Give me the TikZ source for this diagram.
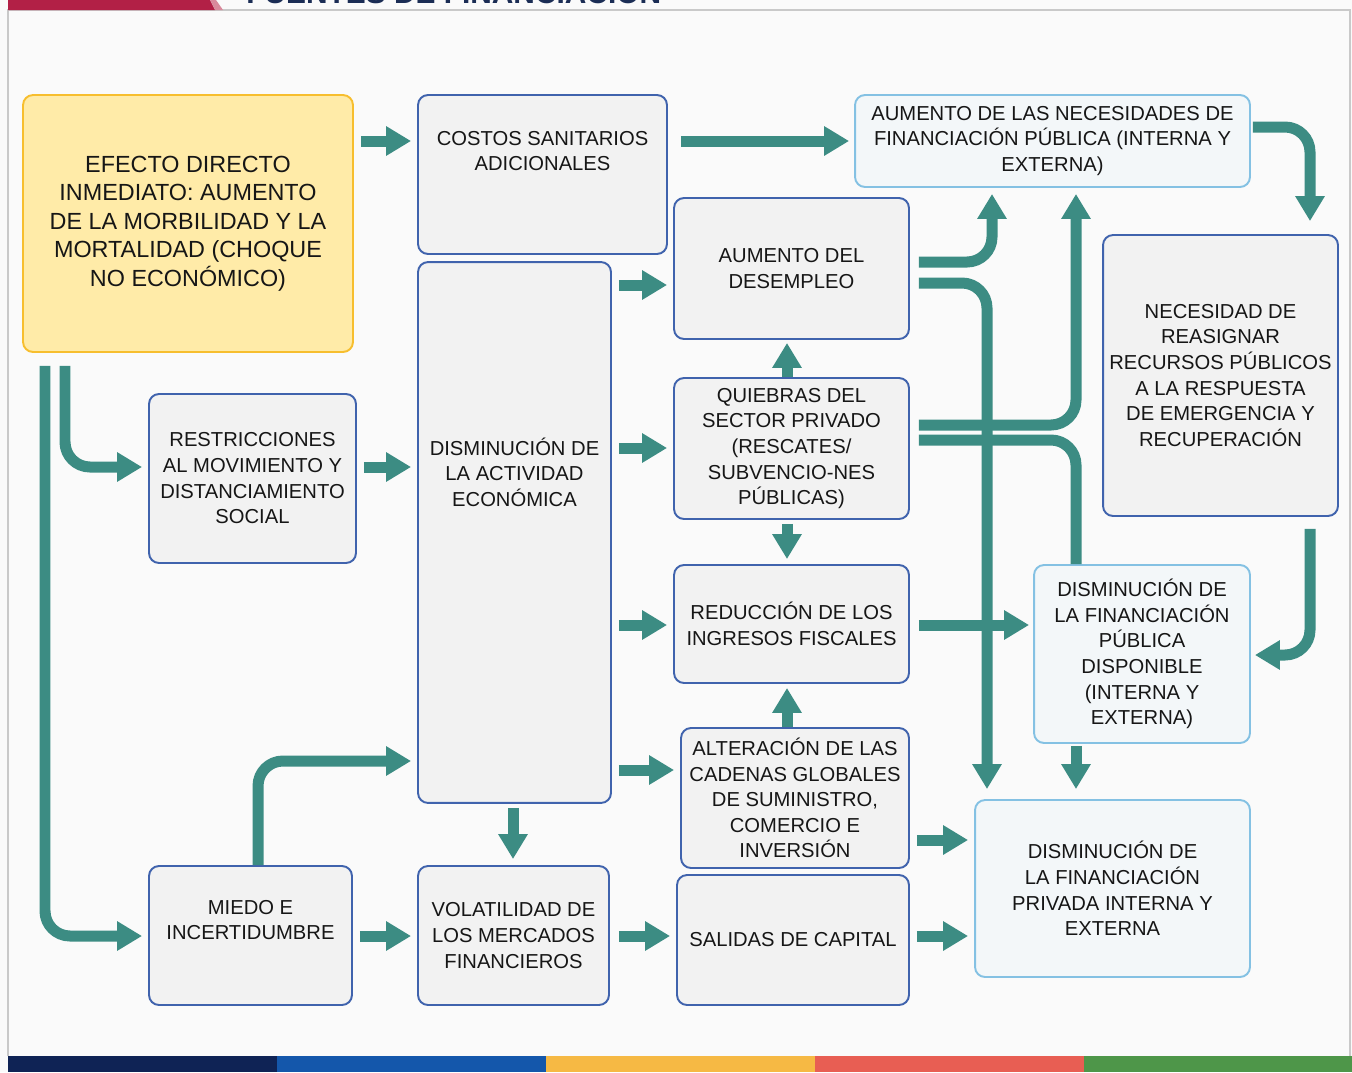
\documentclass[tikz,border=0pt]{standalone}
\usepackage{fontspec}
\setmainfont{Liberation Sans}
\usetikzlibrary{arrows.meta,calc}

\definecolor{pagebg}{HTML}{FAFAFA}
\definecolor{frameline}{HTML}{C9C9C9}
\definecolor{ink}{HTML}{161616}
\definecolor{flowteal}{HTML}{3C8C83}
\definecolor{boxline}{HTML}{4063AD}
\definecolor{boxfill}{HTML}{F2F2F2}
\definecolor{shockfill}{HTML}{FFEBA8}
\definecolor{shockline}{HTML}{F7BE2E}
\definecolor{fundfill}{HTML}{F3F7F9}
\definecolor{fundline}{HTML}{84C1E3}
\definecolor{titlenavy}{HTML}{1B2D55}
\definecolor{bandred}{HTML}{B22046}
\definecolor{bandpink}{HTML}{D98A9C}
\definecolor{barnavy}{HTML}{0F2355}
\definecolor{barblue}{HTML}{1457AB}
\definecolor{baryellow}{HTML}{F6B944}
\definecolor{barred}{HTML}{E85E53}
\definecolor{bargreen}{HTML}{4E9649}

\begin{document}
\begin{tikzpicture}[
            x = 0.02cm, y = -0.02cm, % one unit is one pixel, y runs down
            box/.style = {draw=boxline, fill=boxfill, line width=1.1pt,
                rounded corners=0.2cm, inner sep=0pt, align=center, text=ink,
                font=\fontsize{11.5}{14.6}\selectfont},
            shockbox/.style = {box, draw=shockline, fill=shockfill,
                font=\fontsize{13.3}{16.2}\selectfont},
            fundbox/.style = {box, draw=fundline, fill=fundfill},
            boxtext/.style = {inner sep=0pt, align=center, text=ink,
                font=\fontsize{11.5}{14.6}\selectfont},
            flow/.style = {line width=0.22cm, draw=flowteal, rounded corners=0.5cm,
                -{Triangle[width=0.56cm,length=0.5cm]},
                shorten <=0.14cm, shorten >=0.12cm}, % thick teal arrow
            flowline/.style = {flow, -, shorten >=0pt}
        ]

\useasboundingbox (0,0) rectangle (1352,1072);
\fill[pagebg] (0,0) rectangle (1352,1072);
\draw[frameline, line width=0.6pt] (8,1056) -- (8,10) -- (1350,10) -- (1350,1056);

% title band, cut at the top edge
\fill[bandred] (8,0) -- (210,0) -- (215,10) -- (8,10) -- cycle;
\fill[bandpink] (210,0) -- (216,0) -- (223,10) -- (215,10) -- cycle;
\node[anchor=base west, inner sep=0pt, text=titlenavy,
      font=\fontsize{17}{20}\selectfont\bfseries] (title) at (246,3) {FUENTES DE FINANCIACIÓN};

% colour bar
\fill[barnavy]   (8,1056) rectangle (277,1072);
\fill[barblue]   (277,1056) rectangle (546,1072);
\fill[baryellow] (546,1056) rectangle (815,1072);
\fill[barred]    (815,1056) rectangle (1084,1072);
\fill[bargreen]  (1084,1056) rectangle (1352,1072);

% boxes
\node[shockbox, minimum width=6.6cm, minimum height=5.14cm] (efecto) at (188,223.5)
    {EFECTO DIRECTO\\INMEDIATO: AUMENTO\\DE LA MORBILIDAD Y LA\\MORTALIDAD (CHOQUE\\NO ECONÓMICO)};
\node[box, minimum width=4.98cm, minimum height=3.18cm] (costos) at (542.5,174.5) {};
\node[boxtext] (costos-txt) at (542.5,151) {COSTOS SANITARIOS\\ADICIONALES};
\node[fundbox, minimum width=7.9cm, minimum height=1.84cm] (aumnec) at (1052.5,141)
    {AUMENTO DE LAS NECESIDADES DE\\FINANCIACIÓN PÚBLICA (INTERNA Y\\EXTERNA)};
\node[box, minimum width=4.7cm, minimum height=2.82cm] (desemp) at (791.5,268.5)
    {AUMENTO DEL\\DESEMPLEO};
\node[box, minimum width=3.86cm, minimum height=10.82cm] (actividad) at (514.5,532.5) {};
\node[boxtext] (actividad-txt) at (514.5,472) {DISMINUCIÓN DE\\LA ACTIVIDAD\\ECONÓMICA};
\node[box, minimum width=4.14cm, minimum height=3.38cm] (restric) at (252.5,478.5)
    {RESTRICCIONES\\AL MOVIMIENTO Y\\DISTANCIAMIENTO\\SOCIAL};
\node[box, minimum width=4.7cm, minimum height=2.82cm] (quiebras) at (791.5,448.5)
    {QUIEBRAS DEL\\SECTOR PRIVADO\\(RESCATES/\\SUBVENCIO-NES\\PÚBLICAS)};
\node[box, minimum width=4.7cm, minimum height=2.36cm] (reduccion) at (791.5,624)
    {REDUCCIÓN DE LOS\\INGRESOS FISCALES};
\node[box, minimum width=4.56cm, minimum height=2.8cm] (alteracion) at (795,798)
    {ALTERACIÓN DE LAS\\CADENAS GLOBALES\\DE SUMINISTRO,\\COMERCIO E\\INVERSIÓN};
\node[box, minimum width=4.7cm, minimum height=5.62cm] (reasignar) at (1220.5,375.5)
    {NECESIDAD DE\\REASIGNAR\\RECURSOS PÚBLICOS\\A LA RESPUESTA\\DE EMERGENCIA Y\\RECUPERACIÓN};
\node[fundbox, minimum width=4.32cm, minimum height=3.56cm] (dispub) at (1142,654)
    {DISMINUCIÓN DE\\LA FINANCIACIÓN\\PÚBLICA\\DISPONIBLE\\(INTERNA Y\\EXTERNA)};
\node[fundbox, minimum width=5.5cm, minimum height=3.54cm] (dispriv) at (1112.5,888.5)
    {DISMINUCIÓN DE\\LA FINANCIACIÓN\\PRIVADA INTERNA Y\\EXTERNA};
\node[box, minimum width=4.06cm, minimum height=2.78cm] (miedo) at (250.5,935.5) {};
\node[boxtext] (miedo-txt) at (250.5,920) {MIEDO E\\INCERTIDUMBRE};
\node[box, minimum width=3.82cm, minimum height=2.78cm] (volat) at (513.5,935.5)
    {VOLATILIDAD DE\\LOS MERCADOS\\FINANCIEROS};
\node[box, minimum width=4.64cm, minimum height=2.6cm] (salidas) at (793,940)
    {SALIDAS DE CAPITAL};

% arrows from the first shock
\draw[flow] (efecto.east |- 0,141) -- (costos.west |- 0,141);
\draw[flow, shorten <=0.26cm] (efecto.south -| 65,0) |- (restric.west |- 0,467);
\draw[flow, shorten <=0.26cm] (efecto.south -| 45,0) |- (miedo.west |- 0,936);
\draw[flow, shorten <=0.26cm, shorten >=0.1cm] (costos.east |- 0,141) -- (aumnec.west |- 0,141);
\draw[flow, shorten <=0.04cm, shorten >=0.26cm] (aumnec.east |- 0,127) -| (reasignar.north -| 1310,0);
\draw[flow, shorten <=0.24cm, shorten >=0.08cm] (reasignar.south -| 1310,0) |- (dispub.east |- 0,655);

% second column
\draw[flow] (restric.east |- 0,467) -- (actividad.west |- 0,467);
\draw[flow, shorten <=0pt] (miedo.north -| 258,0) |- (actividad.west |- 0,761);
\draw[flow] (miedo.east |- 0,936) -- (volat.west |- 0,936);
\draw[flow, shorten <=0.08cm] (actividad.south -| 513,0) -- (volat.north -| 513,0);

% from the economic activity
\draw[flow] (actividad.east |- 0,285) -- (desemp.west |- 0,285);
\draw[flow] (actividad.east |- 0,448) -- (quiebras.west |- 0,448);
\draw[flow] (actividad.east |- 0,625) -- (reduccion.west |- 0,625);
\draw[flow] (actividad.east |- 0,770) -- (alteracion.west |- 0,770);
\draw[flow, shorten <=0.18cm] (volat.east |- 0,936) -- (salidas.west |- 0,936);

% vertical links in the third column
\draw[flow, shorten <=0pt, shorten >=0.06cm] (quiebras.north -| 787,0) -- (desemp.south -| 787,0);
\draw[flow, shorten <=0.08cm, shorten >=0.1cm] (quiebras.south -| 787,0) -- (reduccion.north -| 787,0);
\draw[flow, shorten <=0pt, shorten >=0.08cm] (alteracion.north -| 787,0) -- (reduccion.south -| 787,0);

% towards the financing boxes
\draw[flow, shorten <=0.18cm] (desemp.east |- 0,262) -| (aumnec.south -| 992,0);
\draw[flow, shorten <=0.18cm, shorten >=0.2cm] (desemp.east |- 0,283) -| (dispriv.north -| 987,0);
\draw[flow, shorten <=0.18cm] (quiebras.east |- 0,425) -| (aumnec.south -| 1076,0);
\draw[flowline, shorten <=0.18cm] (quiebras.east |- 0,440) -| (dispub.north -| 1076,0);
\draw[flow, shorten <=0.18cm, shorten >=0.08cm] (reduccion.east |- 0,625) -- (dispub.west |- 0,625);
\draw[flow] (alteracion.east |- 0,840) -- (dispriv.west |- 0,840);
\draw[flow] (salidas.east |- 0,936) -- (dispriv.west |- 0,936);
\draw[flow, shorten <=0.04cm, shorten >=0.2cm] (dispub.south -| 1076,0) -- (dispriv.north -| 1076,0);
\end{tikzpicture}
\end{document}
